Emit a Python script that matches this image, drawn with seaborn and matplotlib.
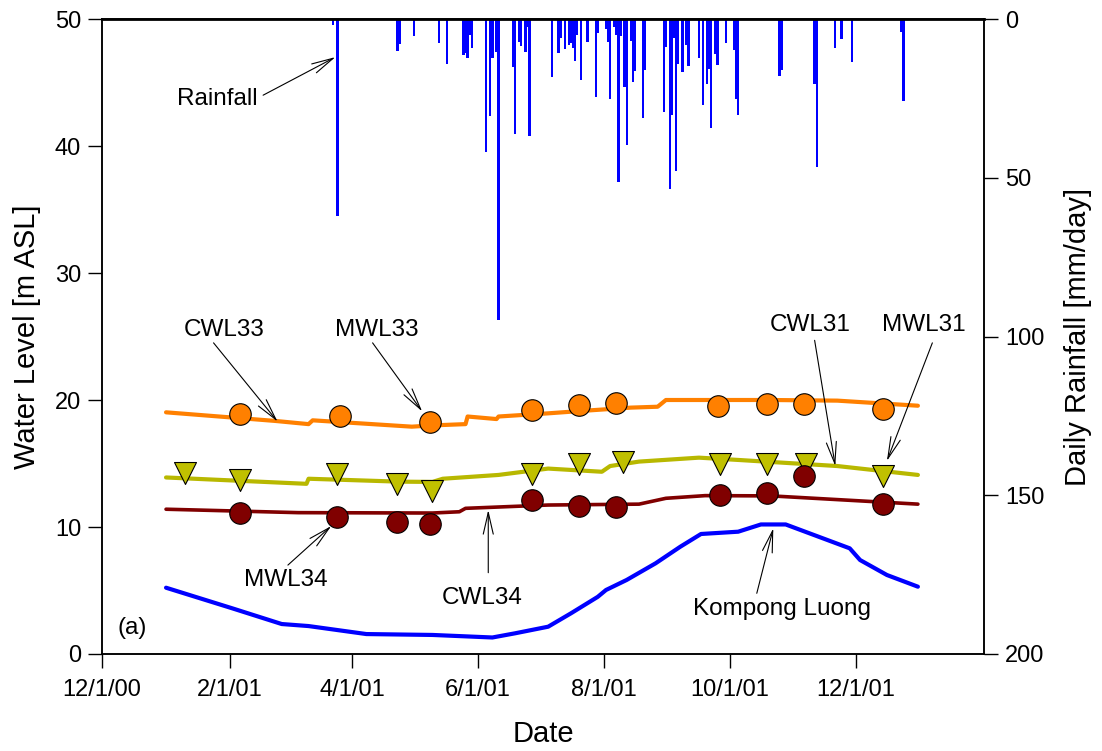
import numpy as np
import pandas as pd
import matplotlib
matplotlib.use('Agg')
import matplotlib.pyplot as plt
import seaborn as sns

sns.set_style('ticks')
plt.rcParams['font.family'] = ['Liberation Sans', 'DejaVu Sans']
plt.rcParams['text.color'] = 'black'
plt.rcParams['axes.labelcolor'] = 'black'
plt.rcParams['xtick.color'] = 'black'
plt.rcParams['ytick.color'] = 'black'

# ---------------- data ----------------
rain_dates = ['2001-03-23', '2001-03-25', '2001-04-23', '2001-04-24', '2001-05-01', '2001-05-13',
              '2001-05-17', '2001-05-25', '2001-05-26', '2001-05-27', '2001-05-28', '2001-05-29',
              '2001-06-05', '2001-06-07', '2001-06-08', '2001-06-10', '2001-06-11', '2001-06-18',
              '2001-06-19', '2001-06-21', '2001-06-22', '2001-06-24', '2001-06-25', '2001-06-26',
              '2001-07-07', '2001-07-10', '2001-07-11', '2001-07-13', '2001-07-15', '2001-07-16',
              '2001-07-17', '2001-07-18', '2001-07-19', '2001-07-21', '2001-07-24', '2001-07-28',
              '2001-07-29', '2001-08-02', '2001-08-03', '2001-08-04', '2001-08-06', '2001-08-07',
              '2001-08-08', '2001-08-09', '2001-08-11', '2001-08-12', '2001-08-14', '2001-08-15',
              '2001-08-16', '2001-08-20', '2001-08-21', '2001-08-30', '2001-08-31', '2001-09-02',
              '2001-09-03', '2001-09-04', '2001-09-05', '2001-09-06', '2001-09-08', '2001-09-10',
              '2001-09-11', '2001-09-16', '2001-09-18', '2001-09-20', '2001-09-21', '2001-09-22',
              '2001-09-24', '2001-09-25', '2001-09-29', '2001-10-03', '2001-10-04', '2001-10-05',
              '2001-10-25', '2001-10-26', '2001-11-11', '2001-11-12', '2001-11-21', '2001-11-24',
              '2001-11-29', '2001-12-23', '2001-12-24']
rain_mm = [2, 62, 10, 8, 5.4, 7.7,
           14.3, 11.3, 10.8, 12.4, 5, 9.2,
           42, 30.4, 12.2, 10.3, 94.8, 15,
           36.2, 7.1, 8.4, 10.3, 2.5, 37,
           18.2, 10.8, 6, 9.4, 8.2, 7.7,
           9.2, 13.1, 5, 19.2, 7.3, 24.5,
           4.3, 3.3, 7.3, 25.3, 2.5, 5,
           51.2, 5.5, 21.3, 39.7, 7, 19.9,
           16.3, 31.3, 16, 29.4, 8.7, 53.7,
           30.2, 6, 48, 14.3, 16.6, 8.2,
           14.8, 12.4, 27, 20.5, 15.7, 34.4,
           11.1, 14.5, 7.7, 9.8, 25.3, 30.2,
           17.8, 16.1, 20.6, 46.5, 9, 6.4,
           13.4, 4, 25.8]

cwl33_dates = ['2001-01-01', '2001-02-23', '2001-03-11', '2001-03-13', '2001-04-30', '2001-05-10',
               '2001-05-26', '2001-05-27', '2001-06-10', '2001-06-11', '2001-07-05', '2001-07-23',
               '2001-08-14', '2001-08-27', '2001-08-31', '2001-10-21', '2001-11-22', '2001-12-31']
cwl33_level = [19.03, 18.35, 18.1, 18.4, 17.9, 18.0,
               18.1, 18.7, 18.5, 18.7, 18.95, 19.16,
               19.4, 19.47, 20.0, 20.0, 19.95, 19.55]

cwl31_dates = ['2001-01-01', '2001-03-10', '2001-03-11', '2001-04-24', '2001-05-10', '2001-05-15',
               '2001-06-11', '2001-07-05', '2001-07-31', '2001-08-04', '2001-08-18', '2001-09-16',
               '2001-10-05', '2001-11-22', '2001-12-31']
cwl31_level = [13.9, 13.4, 13.8, 13.57, 13.55, 13.8,
               14.1, 14.6, 14.35, 14.8, 15.15, 15.46,
               15.28, 14.8, 14.1]

cwl34_dates = ['2001-01-01', '2001-03-06', '2001-05-10', '2001-05-23', '2001-05-26', '2001-07-05',
               '2001-08-18', '2001-08-31', '2001-09-19', '2001-10-21', '2001-12-31']
cwl34_level = [11.4, 11.13, 11.1, 11.2, 11.47, 11.73,
               11.8, 12.26, 12.47, 12.45, 11.8]

kl_dates = ['2001-01-01', '2001-02-02', '2001-02-26', '2001-03-11', '2001-04-08', '2001-05-10',
            '2001-06-08', '2001-06-19', '2001-07-05', '2001-07-16', '2001-07-29', '2001-08-02',
            '2001-08-12', '2001-08-26', '2001-09-07', '2001-09-17', '2001-10-05', '2001-10-16',
            '2001-10-28', '2001-11-28', '2001-12-03', '2001-12-16', '2001-12-31']
kl_level = [5.22, 3.6, 2.36, 2.2, 1.57, 1.5,
            1.3, 1.63, 2.15, 3.2, 4.5, 5.04,
            5.83, 7.14, 8.45, 9.45, 9.63, 10.2,
            10.2, 8.32, 7.4, 6.22, 5.3]

mwl33_dates = ['2001-02-06', '2001-03-26', '2001-05-09', '2001-06-27', '2001-07-20', '2001-08-07',
               '2001-09-25', '2001-10-19', '2001-11-06', '2001-12-14']
mwl33_level = [18.9, 18.74, 18.24, 19.2, 19.6, 19.74, 19.53, 19.66, 19.7, 19.27]

mwl31_dates = ['2001-01-10', '2001-02-06', '2001-03-25', '2001-04-23', '2001-05-10', '2001-06-27',
               '2001-07-20', '2001-08-10', '2001-09-26', '2001-10-19', '2001-11-07', '2001-12-14']
mwl31_level = [14.22, 13.7, 14.2, 13.37, 12.85, 14.2, 15.0, 15.1, 15.0, 15.0, 15.0, 14.0]

mwl34_dates = ['2001-02-06', '2001-03-25', '2001-04-23', '2001-05-09', '2001-06-27', '2001-07-20',
               '2001-08-07', '2001-09-26', '2001-10-19', '2001-11-06', '2001-12-14']
mwl34_level = [11.13, 10.81, 10.42, 10.24, 12.13, 11.68, 11.6, 12.52, 12.65, 14.04, 11.8]

xtick_dates = ['2000-12-01', '2001-02-01', '2001-04-01', '2001-06-01', '2001-08-01', '2001-10-01', '2001-12-01']
xtick_labels = ['12/1/00', '2/1/01', '4/1/01', '6/1/01', '8/1/01', '10/1/01', '12/1/01']

# annotations: label, text position, arrow start, arrow tip (date, level)
annotations = [
    ('Rainfall', ('2001-01-26', 43.7), ('2001-02-17', 44.0), ('2001-03-24', 47.0)),
    ('CWL33', ('2001-01-29', 25.5), ('2001-01-24', 24.5), ('2001-02-24', 18.3)),
    ('MWL33', ('2001-04-13', 25.5), ('2001-04-11', 24.5), ('2001-05-05', 19.1)),
    ('CWL31', ('2001-11-09', 25.9), ('2001-11-11', 24.7), ('2001-11-21', 14.8)),
    ('MWL31', ('2002-01-03', 25.9), ('2002-01-07', 24.5), ('2001-12-16', 15.2)),
    ('MWL34', ('2001-02-28', 5.83), ('2001-03-01', 7.0), ('2001-03-22', 10.08)),
    ('CWL34', ('2001-06-03', 4.4), ('2001-06-06', 6.4), ('2001-06-06', 11.34)),
    ('Kompong Luong', ('2001-10-26', 3.54), ('2001-10-14', 4.78), ('2001-10-22', 9.9)),
]

# ---------------- colours ----------------
c_orange = '#FF8000'
c_olive = '#B8B800'
c_olive_m = '#C0C000'
c_red = '#800000'
c_blue = '#0000FF'

# ---------------- figure ----------------
W, H = 1102, 751
fig = plt.figure(figsize=(W / 100, H / 100), dpi=100)
ax = fig.add_axes([102 / W, 1 - 654 / H, (984 - 102) / W, (654 - 19) / H])

T = pd.to_datetime

sns.lineplot(x=T(cwl33_dates), y=cwl33_level, ax=ax, color=c_orange, lw=3.0, sort=False, estimator=None, zorder=2)
sns.lineplot(x=T(cwl31_dates), y=cwl31_level, ax=ax, color=c_olive, lw=3.0, sort=False, estimator=None, zorder=2)
sns.lineplot(x=T(cwl34_dates), y=cwl34_level, ax=ax, color=c_red, lw=2.6, sort=False, estimator=None, zorder=2)
sns.lineplot(x=T(kl_dates), y=kl_level, ax=ax, color=c_blue, lw=3.0, sort=False, estimator=None, zorder=2)

sns.scatterplot(x=T(mwl33_dates), y=mwl33_level, ax=ax, marker='o', s=240, color=c_orange,
                edgecolor='black', linewidth=0.8, zorder=3)
sns.scatterplot(x=T(mwl31_dates), y=mwl31_level, ax=ax, marker='v', s=250, color=c_olive_m,
                edgecolor='black', linewidth=0.8, zorder=3)
sns.scatterplot(x=T(mwl34_dates), y=mwl34_level, ax=ax, marker='o', s=240, color=c_red,
                edgecolor='black', linewidth=0.8, zorder=3)

ax.set_xlim(T('2000-12-01'), T('2002-02-01'))
ax.set_ylim(0, 50)
ax.set_yticks(np.arange(0, 51, 10))
ax.set_xticks(T(xtick_dates))
ax.set_xticklabels(xtick_labels)
ax.tick_params(axis='y', direction='out', length=10, width=1.0, labelsize=17, colors='black', pad=5)
ax.tick_params(axis='x', direction='out', length=10, width=1.0, labelsize=17, colors='black', pad=8)
ax.set_xlabel('Date', fontsize=21, labelpad=14, color='black')
ax.set_ylabel('Water Level [m ASL]', fontsize=21, labelpad=10, color='black')

ax2 = ax.twinx()
ax2.bar(T(rain_dates), rain_mm, width=1.1, color=c_blue, linewidth=0, align='center')
ax2.set_ylim(200, 0)
ax2.set_yticks(np.arange(0, 201, 50))
ax2.tick_params(axis='y', direction='out', length=10, width=1.0, labelsize=17, colors='black', pad=5)
ax2.set_ylabel('Daily Rainfall [mm/day]', fontsize=21, labelpad=14, color='black')
ax2.set_xlim(T('2000-12-01'), T('2002-02-01'))

for a in (ax, ax2):
    for side in ('left', 'right', 'bottom', 'top'):
        a.spines[side].set_visible(True)
        a.spines[side].set_color('black')
        a.spines[side].set_linewidth(1.1)
ax2.spines['top'].set_linewidth(2.0)

for label, tpos, start, tip in annotations:
    ax.text(T(tpos[0]), tpos[1], label, fontsize=17.5, ha='center', va='center', color='black', zorder=5)
    ax.annotate('', xy=(T(tip[0]), tip[1]), xytext=(T(start[0]), start[1]),
                arrowprops=dict(arrowstyle='->,head_length=1.3,head_width=0.3', color='black',
                                lw=0.8, shrinkA=0, shrinkB=0, mutation_scale=12),
                zorder=5)

ax.text(0.034, 0.041, '(a)', transform=ax.transAxes, fontsize=17.5, ha='center', va='center', color='black')

fig.savefig('out.png', dpi=100)
